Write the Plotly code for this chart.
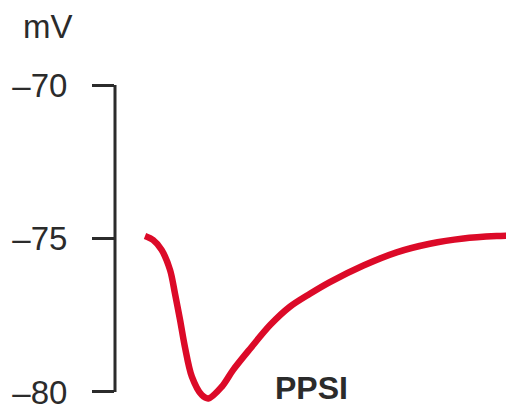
import plotly.graph_objects as go

# time (arbitrary units) and membrane potential (mV)
time_ms = [0, 2.2, 4.5, 6.8, 8.1, 9.5, 10.8, 12.7, 15.4, 17.2, 20.8, 23.9, 28.5,
           33.9, 39.3, 44.7, 50.1, 59.2, 68.2, 77.2, 86.3, 95.3, 100]
potential_mv = [-74.92, -75.05, -75.37, -76.03, -76.78, -77.65, -78.52, -79.50,
                -80.10, -80.21, -79.83, -79.28, -78.59, -77.82, -77.22, -76.80,
                -76.42, -75.88, -75.45, -75.17, -75.00, -74.92, -74.90]
tick_vals = [-80, -75, -70]
tick_text = ["\u201380", "\u201375", "\u201370"]
label_text = "PPSI"
unit_text = "mV"

ink = "#2b2b2b"
font_family = "Liberation Sans, Arial, sans-serif"

fig = go.Figure()
fig.add_trace(go.Scatter(
    x=time_ms, y=potential_mv, mode="lines",
    line=dict(color="#dc0a28", width=6.5, shape="spline", smoothing=0.9),
    hoverinfo="skip", showlegend=False,
))

# axis spine from -80 to -70
fig.add_shape(type="line", xref="paper", yref="y", x0=0, x1=0,
              y0=tick_vals[0], y1=tick_vals[-1],
              line=dict(color=ink, width=3))

fig.add_annotation(x=-0.168, y=0.953, xref="paper", yref="paper",
                   text=unit_text, showarrow=False,
                   font=dict(family=font_family, size=33, color=ink),
                   xanchor="center", yanchor="middle")
fig.add_annotation(x=45.0, y=-79.88, xref="x", yref="y",
                   text="<b>%s</b>" % label_text, showarrow=False,
                   font=dict(family=font_family, size=32, color=ink),
                   xanchor="center", yanchor="middle")

# the page body has an 8px margin, so the figure is 8px smaller than the window
fig.update_layout(
    width=506, height=403,
    margin=dict(l=107, r=0, t=0, b=0, autoexpand=False),
    paper_bgcolor="white", plot_bgcolor="white",
    xaxis=dict(range=[-8.13, 100.0], visible=False, fixedrange=True,
               automargin=False),
    yaxis=dict(range=[-80.62, -67.49], tickvals=tick_vals, ticktext=tick_text,
               ticks="outside", ticklen=22, tickwidth=3, tickcolor=ink,
               showline=False, showgrid=False, zeroline=False,
               automargin=False, ticklabelstandoff=18,
               tickfont=dict(family=font_family, size=33, color=ink)),
)

fig.write_html("out.html")
